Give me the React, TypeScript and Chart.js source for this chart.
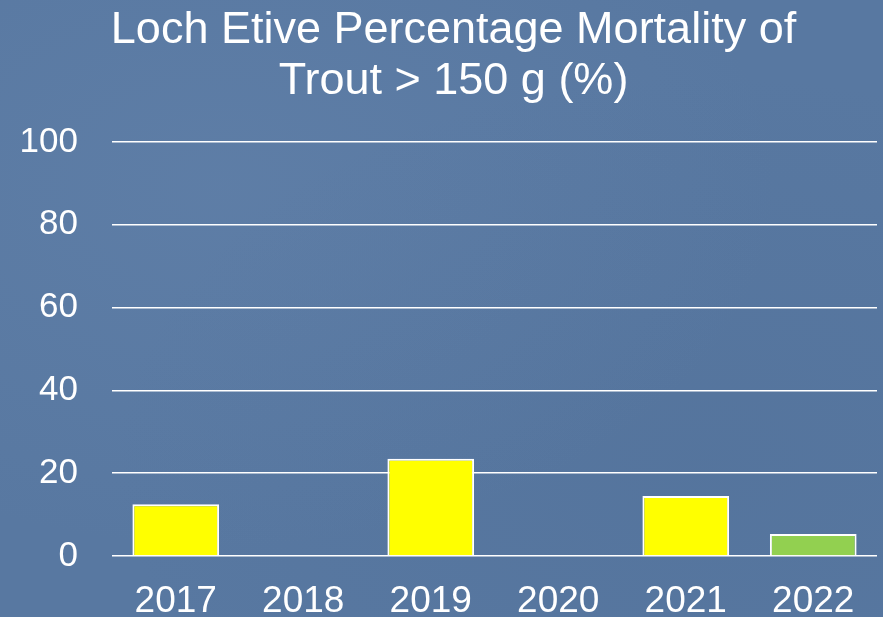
import React, { useEffect, useRef } from "react";
import { Chart, registerables } from "chart.js";

Chart.register(...registerables);

const titleLines = ["Loch Etive Percentage Mortality of", "Trout > 150 g (%)"];
const years = ["2017", "2018", "2019", "2020", "2021", "2022"];
const mortality = [12.5, 0, 23.5, 0, 14.5, 5.3];
const barColors = ["#ffff00", "#ffff00", "#ffff00", "#ffff00", "#ffff00", "#92d050"];
const yTicks = [0, 20, 40, 60, 80, 100];

const FONT = "'Liberation Sans', Arial, sans-serif";

const titlePlugin = {
  id: "customTitle",
  afterDraw(chart: any) {
    const ctx = chart.ctx;
    ctx.save();
    ctx.fillStyle = "#ffffff";
    ctx.font = `45px ${FONT}`;
    ctx.textAlign = "center";
    ctx.textBaseline = "alphabetic";
    const cx = chart.width / 2 + 12;
    titleLines.forEach((line, i) => {
      ctx.fillText(line, cx, 43 + i * 51);
    });
    ctx.restore();
  },
};

export default function App() {
  const ref = useRef<HTMLCanvasElement | null>(null);

  useEffect(() => {
    document.body.style.margin = "0";
    const canvas = ref.current;
    if (!canvas) return;
    const chart = new Chart(canvas, {
      type: "bar",
      data: {
        labels: years,
        datasets: [
          {
            data: mortality,
            backgroundColor: barColors,
            borderColor: "#ffffff",
            borderWidth: 2,
            barPercentage: 0.68,
            categoryPercentage: 1,
          },
        ],
      },
      plugins: [titlePlugin],
      options: {
        animation: false,
        responsive: false,
        maintainAspectRatio: false,
        layout: { padding: { top: 142, left: 0, right: 6, bottom: 0 } },
        plugins: {
          legend: { display: false },
          title: { display: false },
          tooltip: { enabled: false },
        },
        scales: {
          x: {
            grid: { display: false, drawTicks: false },
            border: { display: false },
            afterFit(axis: any) {
              axis.height = 61;
            },
            ticks: {
              color: "#ffffff",
              font: { family: FONT, size: 37 },
              padding: 24,
              maxRotation: 0,
            },
          },
          y: {
            min: 0,
            max: 100,
            afterBuildTicks(axis: any) {
              axis.ticks = yTicks.map((v) => ({ value: v }));
            },
            afterFit(axis: any) {
              axis.width = 112;
            },
            grid: { color: "#ffffff", lineWidth: 1.5, drawTicks: false },
            border: { display: false },
            ticks: {
              color: "#ffffff",
              font: { family: FONT, size: 35 },
              padding: 34,
            },
          },
        },
      },
    });
    return () => chart.destroy();
  }, []);

  return (
    <div
      style={{
        position: "fixed",
        left: 0,
        top: 0,
        width: 883,
        height: 617,
        background:
          "radial-gradient(ellipse at 25% 30%, rgba(120,150,190,0.18), rgba(0,0,0,0) 60%), radial-gradient(ellipse at 80% 75%, rgba(70,100,140,0.18), rgba(0,0,0,0) 60%), #5878a1",
      }}
    >
      <canvas ref={ref} width={883} height={617} style={{ display: "block" }} />
    </div>
  );
}
